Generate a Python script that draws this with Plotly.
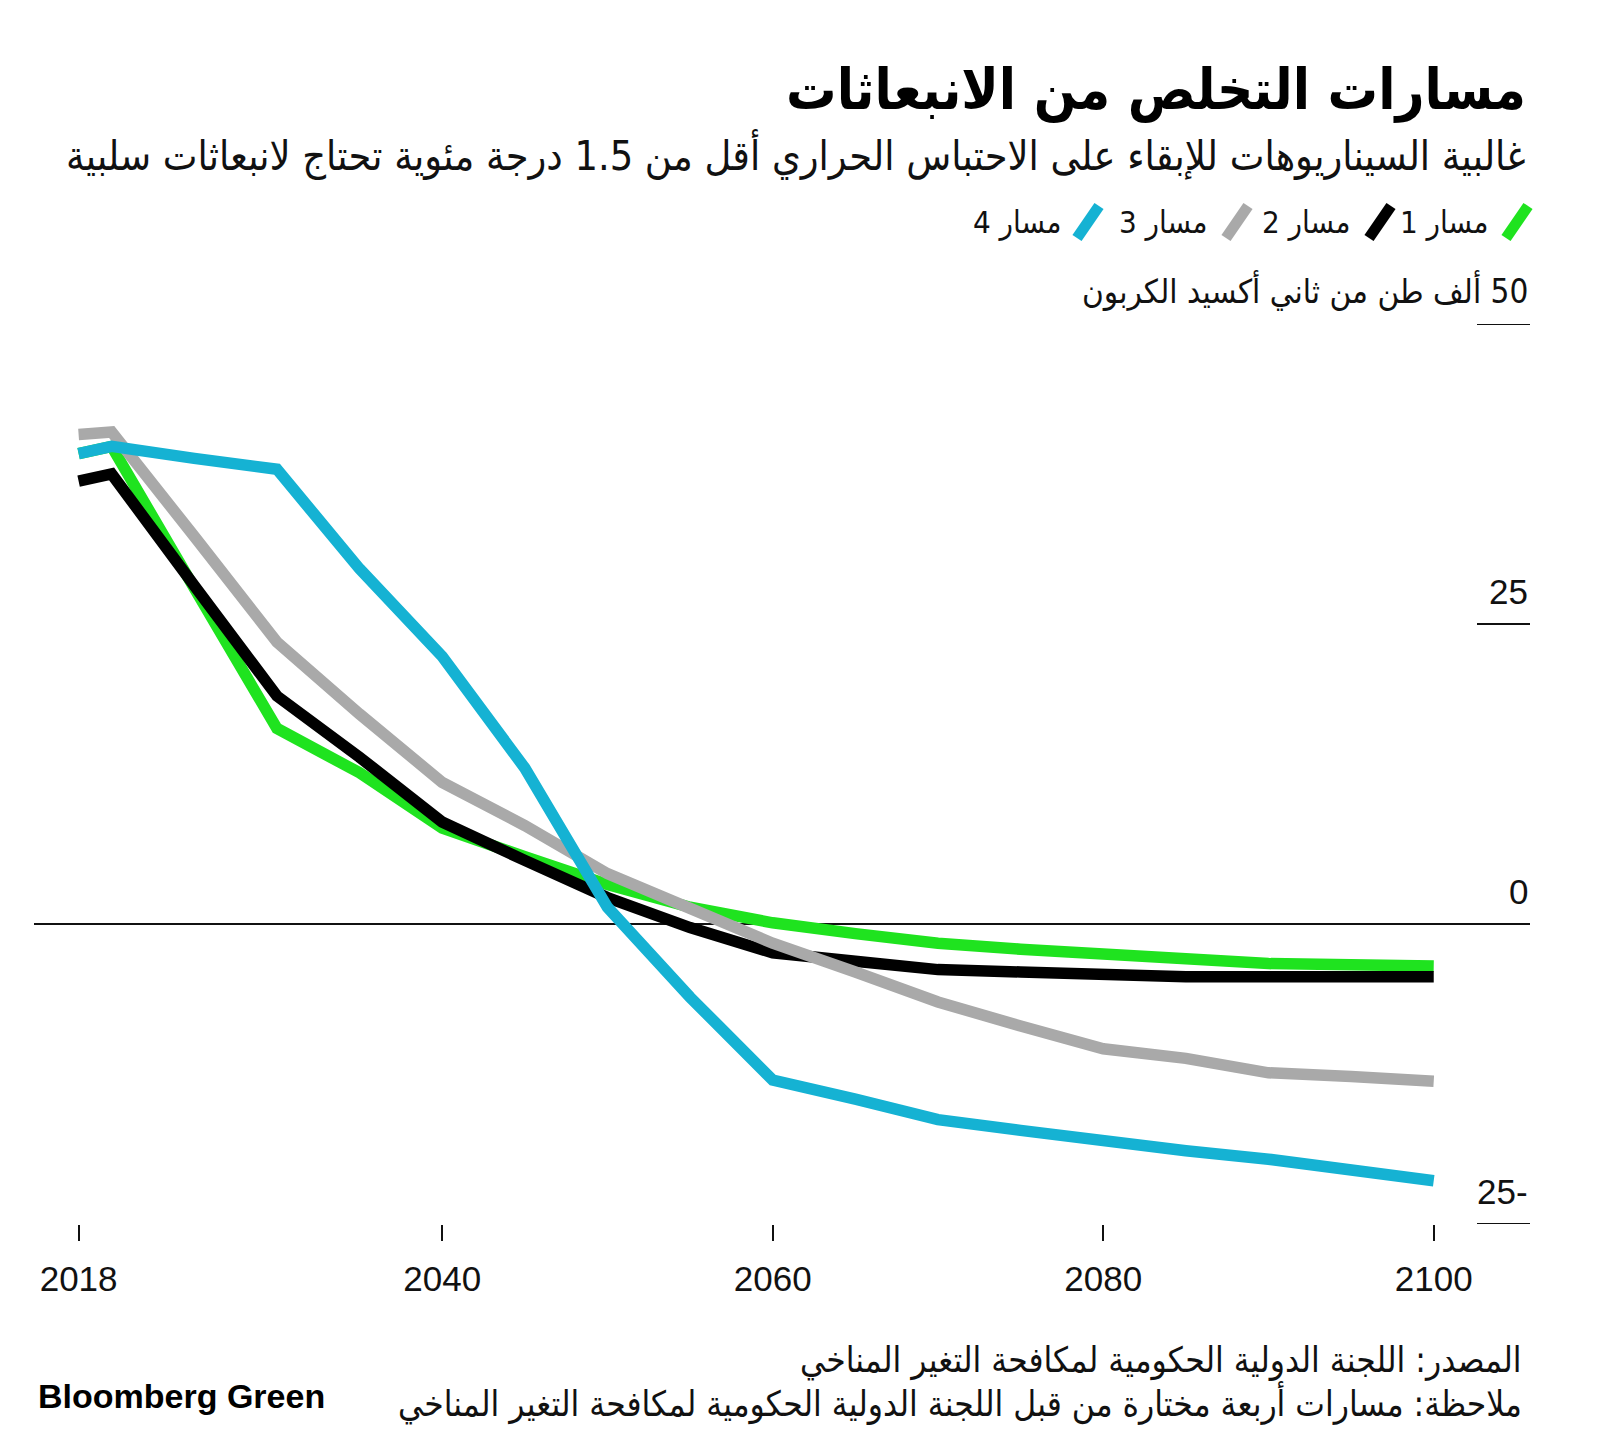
import plotly.graph_objects as go

# ---------------- data ----------------
years = [2018, 2020, 2025, 2030, 2035, 2040, 2045, 2050, 2055, 2060,
         2065, 2070, 2075, 2080, 2085, 2090, 2095, 2100]
path1 = [39.2, 39.8, 28.0, 16.3, 12.6, 8.0, 5.6, 3.3, 1.4, 0.1,
         -0.8, -1.6, -2.1, -2.5, -2.9, -3.3, -3.4, -3.5]
path2 = [36.9, 37.5, 28.2, 19.0, 13.9, 8.5, 5.3, 2.2, -0.3, -2.4,
         -3.1, -3.8, -4.0, -4.3, -4.4, -4.4, -4.4, -4.4]
path3 = [40.8, 41.0, 32.3, 23.5, 17.5, 11.8, 8.2, 4.2, 1.3, -1.6,
         -4.0, -6.5, -8.5, -10.4, -11.2, -12.4, -12.7, -13.1]
path4 = [39.2, 39.8, 38.8, 37.9, 29.6, 22.3, 13.0, 1.4, -6.1, -13.0,
         -14.6, -16.3, -17.2, -18.1, -18.9, -19.6, -20.6, -21.4]

series_names = ["مسار 1", "مسار 2", "مسار 3", "مسار 4"]
series_values = [path1, path2, path3, path4]
series_colors = ["#1fe31f", "#000000", "#a9a9a9", "#15b2d3"]

x_ticks = [2018, 2040, 2060, 2080, 2100]
y_ticks = [50, 25, 0, -25]
y_tick_labels = ["50 ألف طن من ثاني أكسيد الكربون", "25", "0", "-25"]

title = "مسارات التخلص من الانبعاثات"
subtitle = "غالبية السيناريوهات للإبقاء على الاحتباس الحراري أقل من 1.5 درجة مئوية تحتاج لانبعاثات سلبية"
source = "المصدر: اللجنة الدولية الحكومية لمكافحة التغير المناخي"
note = "ملاحظة: مسارات أربعة مختارة من قبل اللجنة الدولية الحكومية لمكافحة التغير المناخي"
brand = "Bloomberg Green"

# ---------------- layout geometry (screen px -> figure) ----------------
OFF = 8                      # page body margin
W, H = 1600 - OFF, 1430 - OFF
ML = 34 - OFF                # plot left edge at screen x=34
MR = 1600 - OFF - (1530 - OFF)  # plot right edge at screen x=1530
MT = 324 - OFF               # y=50 at screen y=324
MB = H - (1224 - OFF)        # y=-25 at screen y=1224
PW, PH = W - ML - MR, H - MT - MB


def px(x):
    return (x - OFF - ML) / PW


def py(y):
    return (MT + PH - (y - OFF)) / PH


def rtl(s):
    return "\u202B" + s + "\u202C"


AR = "DejaVu Sans Condensed, DejaVu Sans, sans-serif"
NUM = "Liberation Sans, Arial, sans-serif"

fig = go.Figure()
for name, vals, col in zip(series_names, series_values, series_colors):
    fig.add_trace(go.Scatter(x=years, y=vals, mode="lines", name=name,
                             line=dict(color=col, width=11.5),
                             showlegend=False, hoverinfo="skip"))

shapes = []
annotations = []

# y reference lines and labels
for v, lab in zip(y_ticks, y_tick_labels):
    x0 = 0 if v == 0 else px(1477)
    shapes.append(dict(type="line", xref="paper", yref="y", x0=x0, x1=1,
                       y0=v, y1=v, line=dict(color="#111111", width=2),
                       layer="below"))
    is_unit = (lab != str(v)) and not lab.startswith("-")
    annotations.append(dict(
        xref="paper", yref="y", x=1, y=v, xanchor="right", yanchor="bottom",
        yshift=11, showarrow=False, text=rtl(lab),
        font=dict(family=AR if is_unit else NUM, size=33 if is_unit else 35,
                  color="#111111")))

# legend (custom, RTL)
legend_icons = [1517, 1380, 1237, 1088]
legend_text_right = [1490, 1352, 1209, 1063]
ly = 222
for name, col, ix, tx in zip(series_names, series_colors, legend_icons, legend_text_right):
    shapes.append(dict(type="line", xref="paper", yref="paper",
                       x0=px(ix - 11), y0=py(ly + 16), x1=px(ix + 11), y1=py(ly - 16),
                       line=dict(color=col, width=11)))
    annotations.append(dict(xref="paper", yref="paper", x=px(tx), y=py(ly),
                            xanchor="right", yanchor="middle", showarrow=False,
                            text=rtl(name), font=dict(family=AR, size=31, color="#111111")))

# title / subtitle
annotations.append(dict(xref="paper", yref="paper", x=px(1528), y=py(90),
                        xanchor="right", yanchor="middle", showarrow=False,
                        text=rtl("<b>" + title + "</b>"),
                        font=dict(family=AR, size=56, color="#000000")))
annotations.append(dict(xref="paper", yref="paper", x=px(1528), y=py(155),
                        xanchor="right", yanchor="middle", showarrow=False,
                        text=rtl(subtitle),
                        font=dict(family=AR, size=41, color="#111111")))

# footer
annotations.append(dict(xref="paper", yref="paper", x=px(1524), y=py(1360),
                        xanchor="right", yanchor="middle", showarrow=False,
                        text=rtl(source), font=dict(family=AR, size=35, color="#111111")))
annotations.append(dict(xref="paper", yref="paper", x=px(1524), y=py(1403),
                        xanchor="right", yanchor="middle", showarrow=False,
                        text=rtl(note), font=dict(family=AR, size=35, color="#111111")))
annotations.append(dict(xref="paper", yref="paper", x=px(36), y=py(1396),
                        xanchor="left", yanchor="middle", showarrow=False,
                        text="<b>" + brand + "</b>",
                        font=dict(family=NUM, size=34, color="#000000")))

x_left = 2018 - (78.6 - 34) / 16.526
x_right = x_left + PW / 16.526

fig.update_layout(
    width=W, height=H,
    margin=dict(l=ML, r=MR, t=MT, b=MB, autoexpand=False),
    paper_bgcolor="white", plot_bgcolor="white",
    xaxis=dict(range=[x_left, x_right], tickvals=x_ticks,
               ticktext=[str(t) for t in x_ticks],
               showgrid=False, zeroline=False, showline=False,
               ticks="outside", ticklen=16, tickwidth=2, tickcolor="#111111",
               ticklabelstandoff=8,
               tickfont=dict(family=NUM, size=35, color="#111111")),
    yaxis=dict(range=[-25, 50], showgrid=False, zeroline=False,
               showline=False, showticklabels=False, ticks=""),
    shapes=shapes, annotations=annotations,
)

fig.write_html("out.html")
